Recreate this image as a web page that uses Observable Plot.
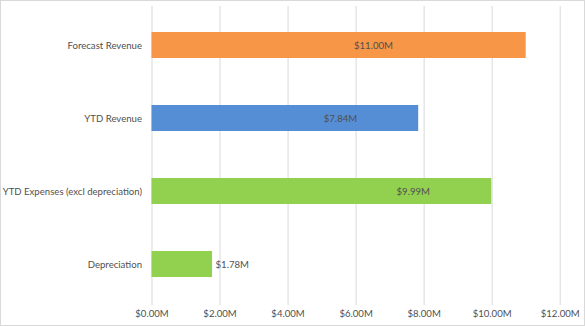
<!DOCTYPE html>
<html>
<head>
<meta charset="utf-8">
<script src="https://cdn.jsdelivr.net/npm/d3@7"></script>
<script src="https://cdn.jsdelivr.net/npm/@observablehq/plot@0.6"></script>
<style>
  html, body { margin: 0; padding: 0; background: #fff; }
  #wrap { position: relative; width: 585px; height: 326px; overflow: hidden; }
  #border { position: absolute; left: 0; top: 0; width: 585px; height: 326px; box-sizing: border-box; border: 1px solid #d9d9d9; pointer-events: none; }
  #chart svg { position: absolute; left: 0; top: 0; }
</style>
</head>
<body>
<div id="wrap"><div id="chart"></div><div id="border"></div></div>
<script>
// Data (values in $ millions)
const categories = ["Forecast Revenue", "YTD Revenue", "YTD Expenses (excl depreciation)", "Depreciation"];
const values = [11.00, 7.84, 9.99, 1.78];
// where each data label sits along the value axis, in $M (as placed in the original)
const labelAt = [6.51, 5.54, 7.68, 1.78];
const barColors = ["#F79646", "#558ED5", "#92D050", "#92D050"];
const xTicks = [0, 2, 4, 6, 8, 10, 12];

const data = categories.map((c, i) => ({category: c, value: values[i], labelAt: labelAt[i]}));
const fmt = v => "$" + v.toFixed(2) + "M";
const font = "Lato, 'Open Sans', sans-serif";
const textColor = "#505050";

const chart = Plot.plot({
  width: 585,
  height: 326,
  marginLeft: 151.5,
  marginRight: 25.3,
  marginTop: 3,
  marginBottom: 21,
  style: {fontFamily: font, fontSize: "9.6px", color: textColor, background: "transparent"},
  x: {domain: [0, 12], axis: null},
  y: {domain: categories, paddingInner: 0.648, paddingOuter: 0.37, axis: null},
  color: {domain: categories, range: barColors},
  marks: [
    Plot.ruleX(xTicks, {x: d => d, stroke: "#d9d9d9", strokeWidth: 1, insetTop: 3}),
    Plot.barX(data, {x: "value", y: "category", fill: "category"}),
    Plot.axisX(xTicks, {tickSize: 0, tickPadding: 5, tickFormat: fmt, fill: textColor, fontSize: 9.6, label: null}),
    Plot.axisY({tickSize: 0, tickPadding: 10, fill: textColor, fontSize: 9.6, label: null}),
    Plot.text(data.filter(d => d.value >= 3), {x: "labelAt", y: "category", text: d => fmt(d.value), fill: textColor, textAnchor: "middle", fontSize: 9.6}),
    Plot.text(data.filter(d => d.value < 3), {x: "value", y: "category", text: d => fmt(d.value), fill: textColor, textAnchor: "start", dx: 3, fontSize: 9.6})
  ]
});
document.getElementById("chart").appendChild(chart);
</script>
</body>
</html>
